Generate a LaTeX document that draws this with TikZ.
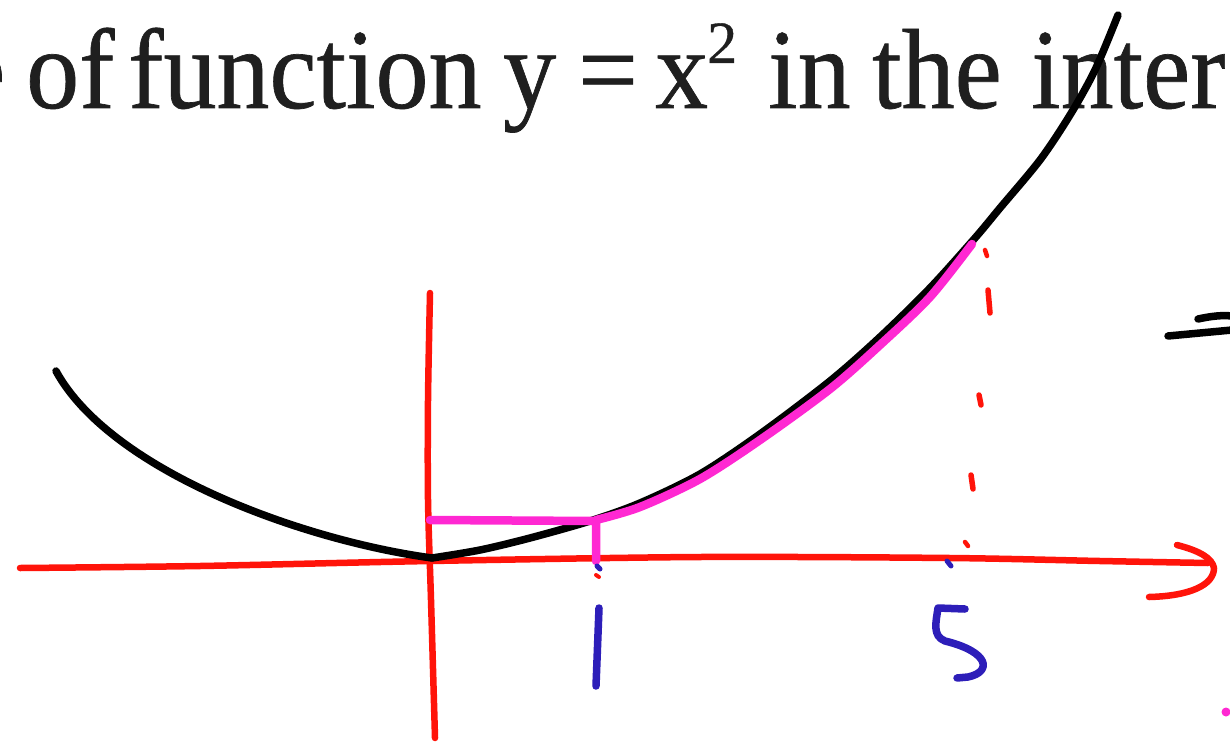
\documentclass[tikz,border=0pt]{standalone}
\usepackage{fontspec}
\setmainfont{Liberation Serif}[FakeBold=0.6]
\definecolor{penred}{RGB}{255,20,10}
\definecolor{penblack}{RGB}{0,0,0}
\definecolor{penmag}{RGB}{255,40,210}
\definecolor{penblue}{RGB}{45,30,185}
\tikzset{
  blackpen/.style={draw=penblack,line width=7.5pt,line cap=round,line join=round},
  redpen/.style={draw=penred,line width=6.5pt,line cap=round,line join=round},
  magpen/.style={draw=penmag,line width=8.5pt,line cap=round,line join=round},
  bluepen/.style={draw=penblue,line width=7.5pt,line cap=round,line join=round},
  word/.style={inner sep=0pt,anchor=base west,text=black!88,font=\fontsize{114}{114}\selectfont,xscale=0.93},
  supword/.style={inner sep=0pt,anchor=base west,text=black!88,font=\fontsize{60}{60}\selectfont}
}
\begin{document}
\begin{tikzpicture}[x=1pt,y=-1pt]
\useasboundingbox (0,0) rectangle (1230,741);
\fill[white] (0,0) rectangle (1230,741);
% heading text, word by word
\node[word] (w0) at (-42,108) {e};
\node[word] (w1) at (26,108) {of};
\node[word] (w2) at (128,108) {function};
\node[word] (w3) at (503,108) {y};
\node[word] (w4) at (578,108) {=};
\node[word] (w5) at (655,108) {x};
\node[supword] (w6) at (707,63) {2};
\node[word] (w7) at (768,108) {in};
\node[word] (w8) at (872,108) {the};
\node[word] (w9) at (1031,108) {inter};
% axes
\draw[redpen] plot[smooth] coordinates {(20,568) (200,566) (430,561) (700,557) (950,558) (1100,561) (1208,563)};
\draw[redpen] (1177,545) .. controls (1200,551) and (1212,558) .. (1214,568) .. controls (1214,585) and (1190,596) .. (1149,597);
\draw[redpen] plot[smooth] coordinates {(430,293) (428,400) (428,500) (431,600) (435,738)};
% parabola
\coordinate (pstart) at (56,371);
\coordinate (pmin) at (432,558);
\draw[blackpen] (pstart) .. controls (110,470) and (300,540) .. (pmin);
\draw[blackpen] plot[smooth] coordinates {(432,558) (480,550) (530,538) (590,521) (640,503) (700,474) (760,434) (830,381) (880,337) (930,288) (975,238) (1000,208) (1040,160) (1070,115) (1095,70) (1118,15)};
% magenta pieces
\draw[magpen] (430,520) -- (596,521) -- (596,561);
\draw[magpen] plot[smooth] coordinates {(596,520) (640,507) (700,479) (760,440) (830,389) (880,345) (930,297) (972,244)};
% dashed vertical at x=5
\draw[redpen,line width=4.5pt] (985,250) -- (987,256);
\draw[redpen,line width=5.5pt] (988,290) -- (990,313);
\draw[redpen,line width=5.5pt] (979,395) -- (981,405);
\draw[redpen,line width=5.5pt] (971,475) -- (973,489);
\draw[redpen,line width=4.5pt] (965,542) -- (968,546);
% small marks at x=1 and x=5
\draw[bluepen,line width=5pt] (597,566) -- (600,569);
\draw[redpen,line width=4pt] (596,575) -- (599,577);
\draw[bluepen,line width=5pt] (947,561) -- (951,566);
% labels
\draw[bluepen] (599,608) -- (596,686);
\draw[bluepen] (965,609) -- (938,608) .. controls (936,622) and (932,636) .. (945,641) .. controls (990,652) and (992,672) .. (968,677) -- (957,678);
% partial marks at right edge
\draw[blackpen] (1168,336) -- (1232,330);
\draw[blackpen] (1198,319) .. controls (1212,316) and (1222,315) .. (1232,316);
\fill[penmag] (1226,712) circle (4.5);
\end{tikzpicture}
\end{document}
